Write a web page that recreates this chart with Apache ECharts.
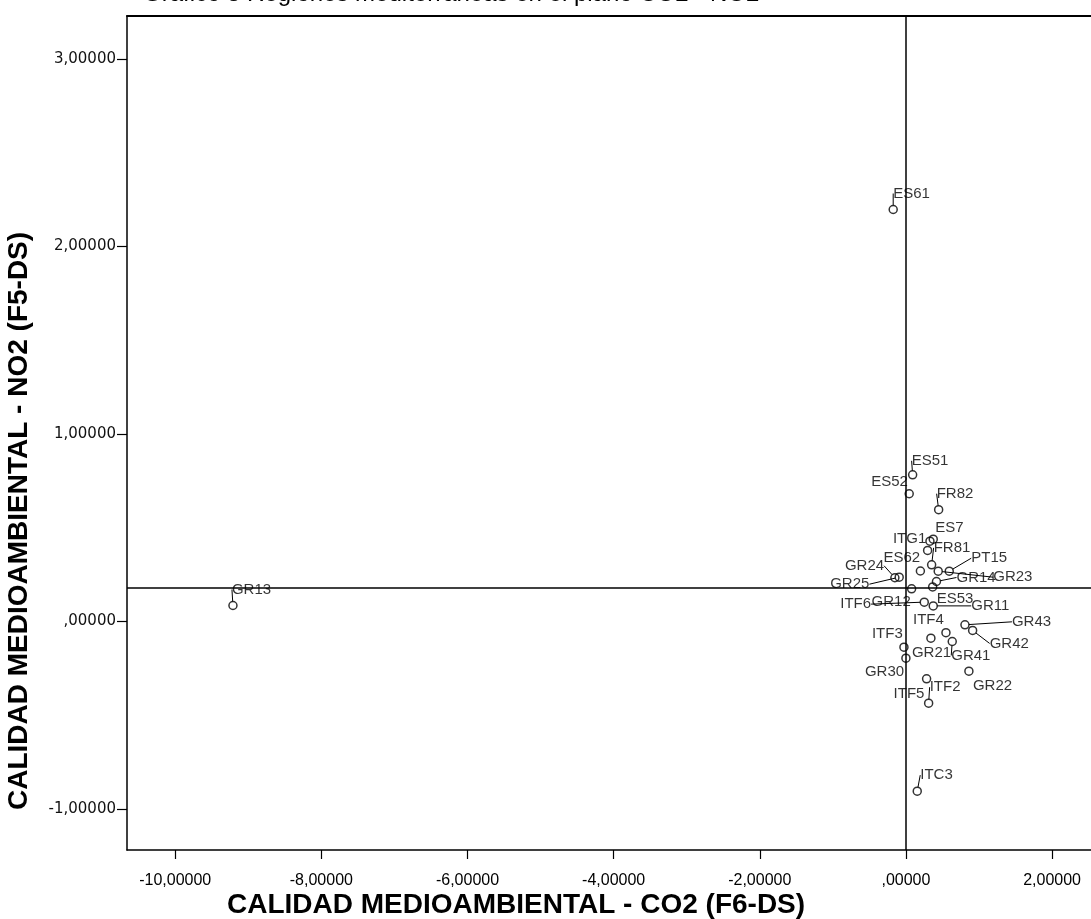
<!DOCTYPE html>
<html>
<head>
<meta charset="utf-8">
<script src="https://cdn.jsdelivr.net/npm/echarts@6/dist/echarts.min.js"></script>
<style>
  html, body { margin: 0; padding: 0; background: #fff; }
  #chart { width: 1091px; height: 919px; }
</style>
</head>
<body>
<div id="chart"></div>
<script>
// Regions (NUTS codes) and their factor scores
const regionNames = [
  'ES61', 'GR13', 'ITC3', 'ES51', 'ES52', 'FR82', 'ES7', 'ITG1', '', 'FR81',
  'ES62', 'GR23', 'PT15', 'GR24', 'GR25', 'GR14', 'GR12', 'ES53', 'ITF6', 'GR11',
  'GR43', 'GR42', 'ITF4', 'GR21', 'GR41', 'ITF3', 'GR30', 'GR22', 'ITF5', 'ITF2'
];
// CALIDAD MEDIOAMBIENTAL - CO2 (F6-DS)
const co2Scores = [
  -0.174, -9.21, 0.155, 0.092, 0.045, 0.448, 0.374, 0.329, 0.297, 0.352,
  0.198, 0.442, 0.593, -0.151, -0.092, 0.418, 0.078, 0.366, 0.251, 0.374,
  0.808, 0.913, 0.548, 0.342, 0.634, -0.027, 0.000, 0.862, 0.283, 0.311
];
// CALIDAD MEDIOAMBIENTAL - NO2 (F5-DS)
const no2Scores = [
  2.197, 0.085, -0.905, 0.782, 0.681, 0.596, 0.439, 0.428, 0.379, 0.302,
  0.269, 0.268, 0.268, 0.233, 0.236, 0.213, 0.174, 0.184, 0.103, 0.083,
  -0.018, -0.048, -0.060, -0.089, -0.107, -0.137, -0.196, -0.265, -0.306, -0.436
];
// Reference lines (means)
const co2Reference = 0.0;
const no2Reference = 0.176;

const xTickValues = [-10, -8, -6, -4, -2, 0, 2];
const yTickValues = [-1, 0, 1, 2, 3];

// Label placement relative to each point (px), and which labels get a leader line
const labelShift = [
  [0, -16], [-1, -16], [3, -16], [-1, -14], [-38, -12], [-2, -16], [2, -11], [-37, -2], [0, 0], [2, -17],
  [-37, -13], [55, 6], [22, -13], [-50, -12], [-69, 7], [20, -4], [-40, 13], [4, 12], [-84, 2], [38, 0],
  [47, -3], [17, 13], [-33, -13], [-19, 15], [-1, 14], [-32, -13], [-41, 14], [4, 15], [-33, 15], [1, -16]
];
const leaderNames = ['ES61', 'GR13', 'ITC3', 'ES51', 'FR82', 'FR81', 'ITG1', 'PT15', 'GR23', 'GR24',
  'GR25', 'GR14', 'ITF6', 'GR11', 'GR43', 'GR42', 'GR41', 'ITF2'];

function fmt(v) {
  const s = Math.abs(v).toFixed(5).replace('.', ',');
  const body = Math.abs(v) < 1e-9 ? s.replace(/^0/, '') : s;
  return (v < 0 ? '-' : '') + body;
}

const points = regionNames.map((name, i) => ({
  name: name,
  value: [co2Scores[i], no2Scores[i]],
  label: { show: name !== '' },
  labelLine: { show: leaderNames.indexOf(name) >= 0 }
}));

const X_MIN = -10.66, X_MAX = 2.533;
const axisBlack = { color: '#000', width: 1.5 };

const chart = echarts.init(document.getElementById('chart'), null, { renderer: 'canvas' });
chart.setOption({
  animation: false,
  backgroundColor: '#fff',
  title: {
    text: 'Gráfico 8 Regiones mediterráneas en el plano CO2 - NO2',
    left: 138,
    top: -23,
    textStyle: { fontFamily: 'Liberation Sans', fontSize: 24, fontWeight: 'normal', color: '#000' }
  },
  grid: { left: 127, right: 0, top: 16, bottom: 69 },
  xAxis: [{
    type: 'value',
    min: X_MIN,
    max: X_MAX,
    splitLine: { show: false },
    axisLine: { show: true, onZero: false, lineStyle: axisBlack },
    axisTick: { show: true, customValues: xTickValues, length: 9, lineStyle: { color: '#000', width: 1.2 } },
    axisLabel: {
      customValues: xTickValues, formatter: fmt, margin: 23,
      fontFamily: 'Liberation Sans', fontSize: 16, color: '#000'
    }
  }, {
    // top frame line
    type: 'value',
    position: 'top',
    min: X_MIN,
    max: X_MAX,
    splitLine: { show: false },
    axisLine: { show: true, onZero: false, lineStyle: { color: '#000', width: 2 } },
    axisTick: { show: false },
    axisLabel: { show: false }
  }],
  yAxis: {
    type: 'value',
    min: -1.219,
    max: 3.229,
    splitLine: { show: false },
    axisLine: { show: true, onZero: false, lineStyle: axisBlack },
    axisTick: { show: true, customValues: yTickValues, length: 10, lineStyle: { color: '#000', width: 1.2 } },
    axisLabel: {
      customValues: yTickValues, formatter: fmt, margin: 11,
      fontFamily: 'DejaVu Sans', fontSize: 15, color: '#111'
    }
  },
  graphic: [
    {
      type: 'text', left: 227, top: 891,
      style: { text: 'CALIDAD MEDIOAMBIENTAL - CO2 (F6-DS)', fontFamily: 'Liberation Sans', fontWeight: 'bold', fontSize: 28, fill: '#000' }
    },
    {
      type: 'text', x: 5, y: 810, rotation: Math.PI / 2,
      style: { text: 'CALIDAD MEDIOAMBIENTAL - NO2 (F5-DS)', fontFamily: 'Liberation Sans', fontWeight: 'bold', fontSize: 28, fill: '#000' }
    }
  ],
  series: [{
    type: 'scatter',
    xAxisIndex: 0,
    data: points,
    symbol: 'circle',
    symbolSize: 8,
    itemStyle: { color: 'rgba(255,255,255,0)', borderColor: '#000', borderWidth: 1.5 },
    label: {
      show: true,
      formatter: '{b}',
      fontFamily: 'Liberation Sans',
      fontSize: 15,
      color: '#000'
    },
    labelLine: { show: true, lineStyle: { color: '#000', width: 1 } },
    labelLayout: function (params) {
      const s = labelShift[params.dataIndex];
      const r = params.rect;
      return {
        x: r.x + r.width / 2 + s[0],
        y: r.y + r.height / 2 + s[1],
        align: 'left',
        verticalAlign: 'middle'
      };
    },
    markLine: {
      silent: true,
      symbol: 'none',
      label: { show: false },
      lineStyle: { color: '#000', width: 1.5, type: 'solid' },
      data: [{ xAxis: co2Reference }, { yAxis: no2Reference }]
    }
  }]
});
</script>
</body>
</html>
